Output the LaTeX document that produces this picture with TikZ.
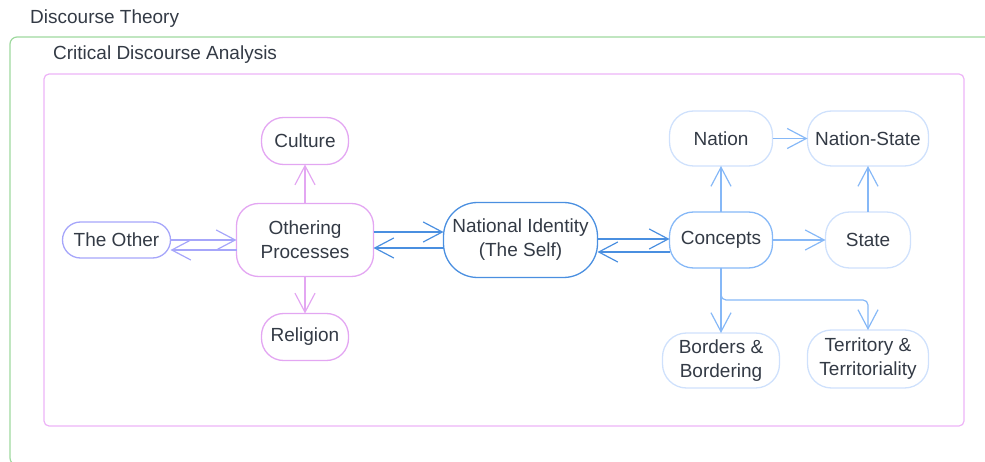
\documentclass[tikz,border=0pt]{standalone}
\usepackage{fontspec}
\setmainfont{Liberation Sans}
\usetikzlibrary{arrows.meta,positioning}
\definecolor{txtgray}{HTML}{333A45}
\definecolor{greenfr}{HTML}{9ED99E}
\definecolor{pinkfr}{HTML}{EDB3F7}
\definecolor{pinkln}{HTML}{E3A6F2}
\definecolor{otherln}{HTML}{A6A6FA}
\definecolor{selfln}{HTML}{4A8FE0}
\definecolor{conln}{HTML}{86B8F7}
\definecolor{paleln}{HTML}{CFE1FC}
\tikzset{
  boxbase/.style={draw, line width=1.3pt, align=center, text=txtgray, inner sep=0pt, outer sep=0pt,
    font=\fontsize{19}{24}\selectfont},
  othbox/.style={boxbase, draw=pinkln, rounded corners=22pt},
  otherbox/.style={boxbase, draw=otherln, rounded corners=18pt},
  selfbox/.style={boxbase, draw=selfln, rounded corners=34pt},
  conbox/.style={boxbase, draw=conln, rounded corners=24pt},
  palebox/.style={boxbase, draw=paleln, rounded corners=24pt},
  frametitle/.style={anchor=base west, inner sep=0pt, text=txtgray, font=\fontsize{19}{24}\selectfont},
  line/.style={line width=1.2pt, -{Straight Barb[length=19pt,width=20pt]}},
  elbowline/.style={line, rounded corners=5pt}
}

\begin{document}
\begin{tikzpicture}[x=1pt, y=-1pt]
  \useasboundingbox (0,0) rectangle (985,462);
  \clip (0,0) rectangle (985,462);

  % frames
  \draw[greenfr, line width=1.2pt, rounded corners=7pt] (1000,37) -| (10,465) -- (1000,465);
  \draw[pinkfr, line width=1.2pt, rounded corners=5pt] (44,74) rectangle (964,426);
  \node[frametitle] (dt) at (30,24) {Discourse Theory};
  \node[frametitle] (cda) at (53,60) {Critical Discourse Analysis};

  % othering side
  \node[othbox, minimum width=137pt, minimum height=73pt] (oth) at (305,240) {Othering\\Processes};
  \node[othbox, minimum width=87pt, minimum height=47pt, above=39pt of oth] (cul) {Culture};
  \node[othbox, minimum width=87pt, minimum height=47pt, below=37pt of oth] (rel) {Religion};
  \node[otherbox, minimum width=108pt, minimum height=36pt, left=66pt of oth] (other) {The Other};

  % self and concepts
  \node[selfbox, minimum width=154pt, minimum height=75pt, right=70pt of oth] (ni) {National Identity\\(The Self)};
  \node[conbox, minimum width=103pt, minimum height=56pt, right=72pt of ni] (con) {Concepts};
  \node[palebox, minimum width=103pt, minimum height=55pt, above=46pt of con] (nat) {Nation};
  \node[palebox, minimum width=85pt, minimum height=56pt, right=53pt of con] (sta) {State};
  \node[palebox, minimum width=121pt, minimum height=55pt, above=46pt of sta] (nst) {Nation-State};
  \node[palebox, minimum width=117pt, minimum height=55pt, below=65pt of con] (bor) {Borders \&\\Bordering};
  \node[palebox, minimum width=121pt, minimum height=58pt, below=62pt of sta] (ter) {Territory \&\\Territoriality};

  \draw[line, otherln] (other.east) -- (oth.west);
  \draw[line, otherln] ([yshift=-10pt]oth.west) -- ([yshift=-10pt]other.east);
  \draw[line, pinkln] (oth) -- (cul);
  \draw[line, pinkln] (oth) -- (rel);
  \draw[line, selfln] ([yshift=8pt]oth.east) -- ([yshift=8pt]ni.west);
  \draw[line, selfln] ([yshift=-8pt]ni.west) -- ([yshift=-8pt]oth.east);
  \draw[line, selfln] ([yshift=1pt]ni.east) -- ([yshift=1pt]con.west);
  \draw[line, selfln] ([yshift=-12pt]con.west) -- ([yshift=-12pt]ni.east);

  \draw[line, conln] (con) -- (nat);
  \draw[line, conln] (con) -- (sta);
  \draw[line, conln] (con) -- (bor);
  \draw[elbowline, conln] (con.south) -- ++(0,32) -| (ter.north);
  \draw[line, conln] (nat) -- (nst);
  \draw[line, conln] (sta) -- (nst);
\end{tikzpicture}
\end{document}
